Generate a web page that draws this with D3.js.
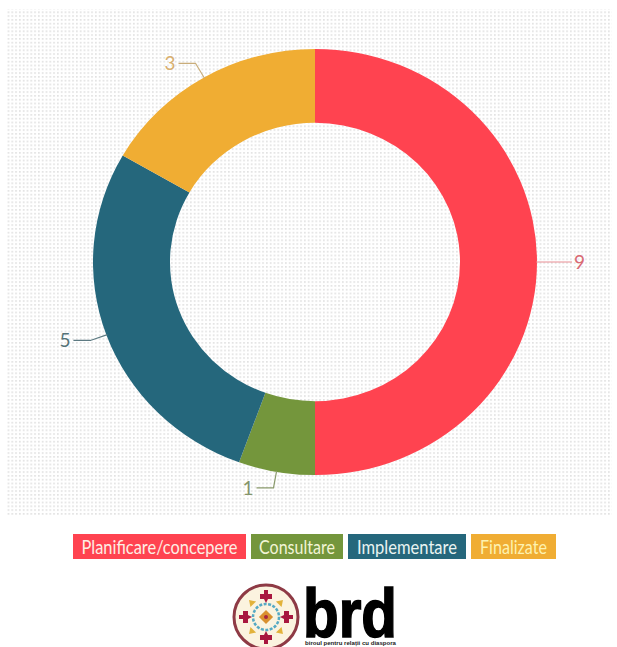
<!DOCTYPE html>
<html><head><meta charset="utf-8">
<script src="https://cdnjs.cloudflare.com/ajax/libs/d3/7.8.5/d3.min.js"></script>
<style>html,body{margin:0;padding:0;background:#fff;overflow:hidden}svg{display:block}</style>
</head><body><svg id="c" width="617" height="647"></svg>
<script>
const categories=["Planificare/concepere","Consultare","Implementare","Finalizate"];
const values=[9,1,5,3];
const colors=["#ff4350","#74963c","#25677c","#f0ad33"];
const labelColors=["#d96a74","#83946a","#557278","#d9b070"];
const lineColors=["#e88d94","#8a9a6c","#5d7a82","#c9ad7a"];
const legendTextColors=["#fdeee4","#f2f4d6","#eaf4f2","#fdf2b0"];
const logoTagline="biroul pentru relații cu diaspora";
const cx=315,cy=262,R=222,r=145,squash=0.96;
const font="Lato,'Open Sans',sans-serif";
const svg=d3.select("#c");
const defs=svg.append("defs");
const pat=defs.append("pattern").attr("id","dots").attr("width",3.8).attr("height",3.8).attr("patternUnits","userSpaceOnUse");
pat.append("rect").attr("width",1.7).attr("height",1.7).attr("fill","#e2e2e2");
svg.append("rect").attr("x",6).attr("y",9).attr("width",606).attr("height",506).attr("fill","url(#dots)");
const pie=d3.pie().sort(null).value((d,i)=>values[i]);
const arc=d3.arc().innerRadius(r).outerRadius(R);
const arcs=pie(categories);
const g=svg.append("g").attr("transform",`translate(${cx},${cy})`);
g.append("g").attr("transform",`scale(1,${squash})`).selectAll("path.s").data(arcs).join("path").attr("class","s").attr("d",arc).attr("fill",(d,i)=>colors[i]);
const pt=(a,rad)=>[Math.sin(a)*rad,-Math.cos(a)*rad*squash];
arcs.forEach((d,i)=>{
  const a=(d.startAngle+d.endAngle)/2, right=Math.sin(a)>0;
  const p0=pt(a,R-1), p1=pt(a,R+17);
  const p2=[p1[0]+(right?18:-17),p1[1]];
  g.append("path").attr("d",d3.line()([p0,p1,p2])).attr("fill","none").attr("stroke",lineColors[i]).attr("stroke-width",1.2);
  g.append("text").attr("x",p2[0]+(right?2:-3)).attr("y",p2[1]).attr("dy","0.36em")
   .attr("text-anchor",right?"start":"end").attr("font-family",font).attr("font-weight",400).attr("font-size",19).attr("fill",labelColors[i]).text(values[i]);
});
// legend
const leg=svg.append("g").attr("transform","translate(0,534)");
const lx=[73,251,348,471], lw=[173,92,118,85], tw=[156,76,100,67];
categories.forEach((c,i)=>{
  leg.append("rect").attr("x",lx[i]).attr("y",0).attr("width",lw[i]).attr("height",25).attr("fill",colors[i]);
  leg.append("text").attr("x",lx[i]+lw[i]/2).attr("y",13).attr("dy","0.36em").attr("text-anchor","middle")
   .attr("font-family",font).attr("font-size",19.5).attr("textLength",tw[i]).attr("lengthAdjust","spacingAndGlyphs").attr("fill",legendTextColors[i]).text(c);
});
// logo
const logo=svg.append("g").attr("transform","translate(266,617)");
logo.append("circle").attr("r",32).attr("fill","#fbf3df").attr("stroke","#8e3a45").attr("stroke-width",3);
logo.append("circle").attr("r",13).attr("fill","none").attr("stroke","#55a9c4").attr("stroke-width",2.5).attr("stroke-dasharray","3 1.5");
logo.append("rect").attr("x",-5).attr("y",-5).attr("width",10).attr("height",10).attr("fill","#d9902f").attr("transform","rotate(45)");
logo.append("circle").attr("r",2).attr("fill","#a8243f");
[0,90,180,270].forEach(t=>{
  logo.append("path").attr("transform",`rotate(${t}) translate(0,-20)`).attr("d","M-2,-7L2,-7L2,-3L6,-3L6,2L2,2L0,6L-2,2L-6,2L-6,-3L-2,-3Z").attr("fill","#a8173f");
  logo.append("path").attr("transform",`rotate(${t+45}) translate(0,-20)`).attr("d","M-4,2L0,-4L4,2Z").attr("fill","#e2b23a");
});
svg.append("text").attr("x",303).attr("y",637).attr("font-family","'Liberation Sans',sans-serif").attr("font-weight",700).attr("font-size",69).attr("textLength",94).attr("lengthAdjust","spacingAndGlyphs").attr("fill","#000").attr("stroke","#000").attr("stroke-width",1.6).text("brd");
svg.append("text").attr("x",305).attr("y",645).attr("font-family","'Liberation Sans',sans-serif").attr("font-weight",700).attr("font-size",5).attr("textLength",91).attr("lengthAdjust","spacingAndGlyphs").attr("fill","#222").text(logoTagline);
</script></body></html>
